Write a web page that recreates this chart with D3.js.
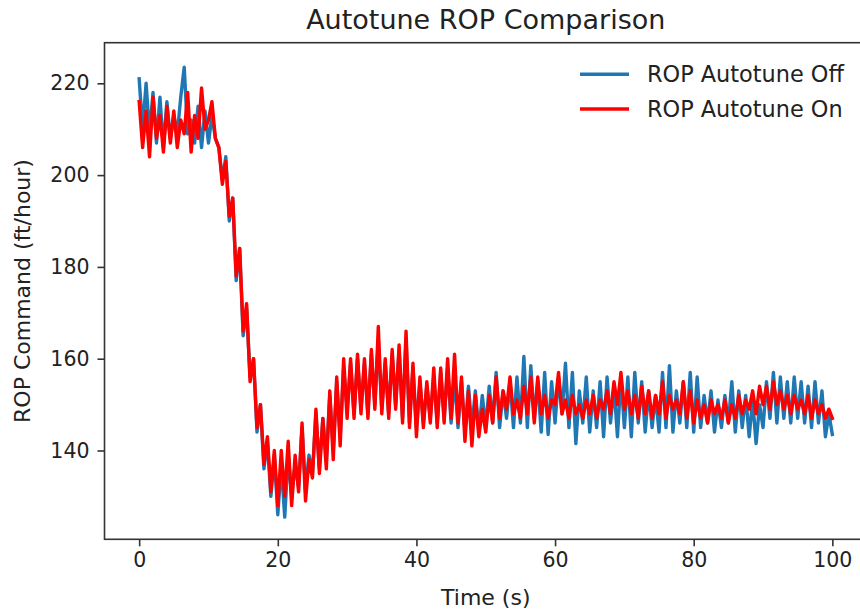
<!DOCTYPE html>
<html>
<head>
<meta charset="utf-8">
<script src="https://cdn.jsdelivr.net/npm/d3@7"></script>
<style>
  html, body { margin: 0; padding: 0; background: #fff; }
  svg { display: block; }
  text { font-family: "DejaVu Sans", sans-serif; fill: #222; }
</style>
</head>
<body>
<svg id="chart" width="860" height="613"></svg>
<script>
// ---- data (sampled every 0.5 s, t = 0 ... 100) ----
const sampleStep = 0.5;

const ropOff = [
  221, 210, 220, 209, 218, 207, 217, 206, 216, 208,
  213, 209, 217, 223.5, 209, 212, 207, 215, 206, 214,
  207, 213, 208, 206, 199, 204, 190, 195, 177, 184,
  165, 171, 156, 160, 144, 150, 136, 142, 130, 139,
  126, 137, 125.5, 139, 130, 137, 132, 145, 131, 139,
  135, 148, 136, 147, 138, 152, 140, 155, 143, 158,
  149, 159, 148, 160, 149, 159, 148, 161, 150, 164,
  149, 159, 148, 161, 150, 162, 147, 164, 146, 158,
  145, 155, 146, 154, 147, 156, 146, 157, 147, 158,
  146, 156, 145, 155, 144, 154, 145, 153, 144, 152,
  145, 154, 146, 157, 145, 153, 147, 155, 145, 156,
  146, 160.5, 145, 158.5, 147, 155, 144, 157, 143.5, 155,
  146, 156, 148, 159, 145, 157, 141.5, 153, 146, 156,
  144, 153, 145, 155, 143, 156, 146, 154, 143, 156,
  145, 156, 143, 157, 146, 155, 144, 153, 145, 152,
  144, 157, 145, 158.5, 144, 153, 146, 155, 145, 157,
  144, 156, 145, 152, 146, 153, 144, 151, 145, 152,
  146, 155, 144, 153, 145, 152, 143, 151, 141.5, 150,
  145, 155, 147, 157, 146, 156, 147, 155, 146, 156,
  147, 155, 146, 154, 145, 155, 146, 153, 143, 148,
  143.5
];

const ropOn = [
  216, 206, 214, 204, 217, 208, 213, 205, 215, 207,
  214, 206, 212, 209, 218, 205, 213, 208, 219, 210,
  212, 216, 208, 206, 198, 203, 191, 195, 178, 184,
  166, 172, 155, 160, 145, 150, 137, 143, 131, 140,
  128, 140, 130, 142, 128, 139, 131, 146, 129, 138,
  134, 149, 135, 147, 136, 153, 138, 156, 141, 160,
  147, 160, 147, 161, 148, 160, 147, 162, 149, 167,
  148, 160, 147, 162, 149, 163, 146, 166, 145, 159,
  143, 156, 145, 155, 146, 158, 145, 158, 146, 160,
  147, 161, 146, 156, 142, 153, 141, 152, 143, 149,
  144, 152, 146, 156, 147, 153, 149, 156, 148, 151,
  147, 154, 148, 156, 146, 156, 148, 152, 147, 151,
  150, 157, 148, 151, 147, 152, 148, 150, 147, 151,
  148, 152, 147, 151, 149, 153, 148, 155, 150, 157,
  149, 153, 148, 152, 147, 154, 148, 153, 147, 152,
  148, 155, 147, 152, 149, 151, 148, 155, 147, 153,
  146, 151, 147, 150, 146, 151, 148, 150, 147, 151,
  146, 150, 147, 152, 148, 151, 149, 153, 148, 154,
  150, 154, 149, 155, 150, 153, 149, 152, 148, 152,
  149, 151, 148, 152, 147, 151, 148, 150, 147, 149,
  147
];

const seriesNames = ["ROP Autotune Off", "ROP Autotune On"];
const seriesColors = ["#1f77b4", "#ff0000"];
const xTicks = [0, 20, 40, 60, 80, 100];
const yTicks = [140, 160, 180, 200, 220];
const titleText = "Autotune ROP Comparison";
const xLabel = "Time (s)";
const yLabel = "ROP Command (ft/hour)";

// ---- layout ----
const svg = d3.select("#chart");
const plot = { left: 104.5, right: 867, top: 42.7, bottom: 539.3 };

const x = d3.scaleLinear().domain([-5, 105]).range([plot.left, plot.right]);
const y = d3.scaleLinear().domain([120.65, 228.85]).range([plot.bottom, plot.top]);

svg.append("defs").append("clipPath").attr("id", "clip")
  .append("rect")
  .attr("x", plot.left).attr("y", plot.top)
  .attr("width", plot.right - plot.left).attr("height", plot.bottom - plot.top);

const series = [ropOff, ropOn].map((vals, i) => ({
  name: seriesNames[i],
  color: seriesColors[i],
  points: vals.map((v, k) => ({ t: k * sampleStep, v }))
}));

const line = d3.line().x(d => x(d.t)).y(d => y(d.v));

const lines = svg.append("g").attr("clip-path", "url(#clip)");
series.forEach(s => {
  lines.append("path")
    .datum(s.points)
    .attr("fill", "none")
    .attr("stroke", s.color)
    .attr("stroke-width", 3.4)
    .attr("stroke-linejoin", "round")
    .attr("stroke-linecap", "square")
    .attr("d", line);
});

// axes
const xAxis = d3.axisBottom(x).tickValues(xTicks).tickSize(7).tickPadding(6).tickFormat(d3.format("d"));
const yAxis = d3.axisLeft(y).tickValues(yTicks).tickSize(7).tickPadding(8).tickFormat(d3.format("d"));

const gx = svg.append("g").attr("transform", `translate(0,${plot.bottom})`).call(xAxis);
const gy = svg.append("g").attr("transform", `translate(${plot.left},0)`).call(yAxis);
[gx, gy].forEach(g => {
  g.select(".domain").remove();
  g.selectAll(".tick line").attr("stroke", "#333").attr("stroke-width", 1.6);
  g.selectAll(".tick text").attr("font-size", 20.5).attr("font-family", "DejaVu Sans").attr("fill", "#222");
});

// frame
svg.append("rect")
  .attr("x", plot.left).attr("y", plot.top)
  .attr("width", plot.right - plot.left).attr("height", plot.bottom - plot.top)
  .attr("fill", "none").attr("stroke", "#333").attr("stroke-width", 1.6);

// title and labels
svg.append("text")
  .attr("x", (plot.left + plot.right) / 2).attr("y", 28.5)
  .attr("text-anchor", "middle").attr("font-size", 27)
  .text(titleText);

svg.append("text")
  .attr("x", (plot.left + plot.right) / 2).attr("y", 605)
  .attr("text-anchor", "middle").attr("font-size", 22)
  .text(xLabel);

svg.append("text")
  .attr("transform", `translate(30,${(plot.top + plot.bottom) / 2}) rotate(-90)`)
  .attr("text-anchor", "middle").attr("font-size", 22)
  .text(yLabel);

// legend
const legend = svg.append("g");
series.forEach((s, i) => {
  const ly = 74.3 + i * 34.7;
  legend.append("line")
    .attr("x1", 580).attr("x2", 629).attr("y1", ly).attr("y2", ly)
    .attr("stroke", s.color).attr("stroke-width", 3.4);
  legend.append("text")
    .attr("x", 647).attr("y", ly + 7.8)
    .attr("font-size", 22.4)
    .text(s.name);
});
</script>
</body>
</html>
